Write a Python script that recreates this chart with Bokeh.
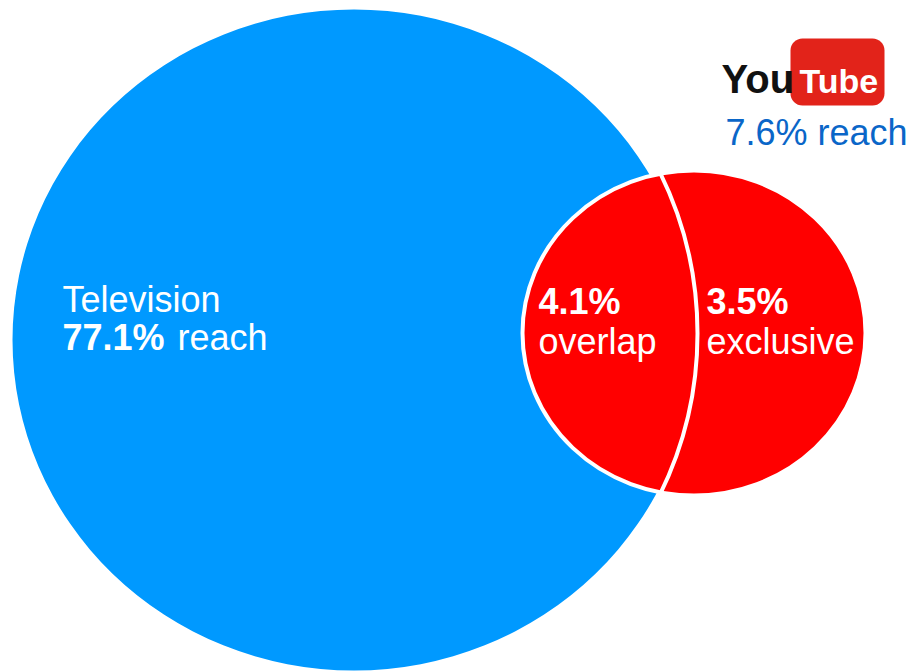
from bokeh.plotting import figure
from bokeh.models import Range1d
from bokeh.core.properties import value
from bokeh.embed import file_html
from bokeh.resources import INLINE

# ---- data ----
tv_label = "Television"
tv_reach = 77.1
yt_reach = 7.6
overlap_pct = 4.1
exclusive_pct = 3.5
overlap_label = "overlap"
exclusive_label = "exclusive"

W, H = 914, 671
BLUE = "#0099ff"
RED = "#ff0000"
FONT = value("Liberation Sans")

p = figure(width=W, height=H, output_backend="svg", toolbar_location=None,
           x_range=Range1d(0, W), y_range=Range1d(0, H), min_border=0)
p.axis.visible = False
p.grid.visible = False
p.outline_line_color = None
p.background_fill_color = "white"
p.border_fill_color = "white"

def Y(py):
    return H - py

# Television ellipse
p.ellipse(x=[353.5], y=[Y(339.5)], width=[683], height=[661], fill_color=BLUE, line_color=None)
# YouTube circle
p.ellipse(x=[693.5], y=[Y(332.5)], width=[343], height=[325], fill_color=RED,
          line_color="white", line_width=4)
# overlap boundary
p.arc(x=[333], y=[Y(333)], radius=364, start_angle=-0.46, end_angle=0.46,
      line_color="white", line_width=4)

def txt(x, py, s, color="white", size=36, style="normal"):
    p.text(x=[x], y=[Y(py - 0.36 * size)], text=[s], text_color=color, text_font=FONT,
           text_font_size=f"{size}px", text_font_style=style,
           text_align="left", text_baseline="alphabetic")

txt(62, 312, tv_label)
txt(62, 350, f"{tv_reach}%", style="bold")
txt(177, 350, "reach")
txt(538, 314, f"{overlap_pct}%", style="bold")
txt(538, 354, overlap_label)
txt(706, 314, f"{exclusive_pct}%", style="bold")
txt(706, 354, exclusive_label)
txt(725, 145, f"{yt_reach}% reach", color="#0a66c8")

# YouTube logo
p.quad(left=[790], right=[884], top=[Y(38)], bottom=[Y(105)], fill_color="#e2231a",
       line_color=None, border_radius=12)
txt(721, 93, "You", color="#111111", size=40, style="bold")
txt(799, 93, "Tube", color="white", size=34, style="bold")

open("out.html", "w").write(file_html(p, INLINE))
